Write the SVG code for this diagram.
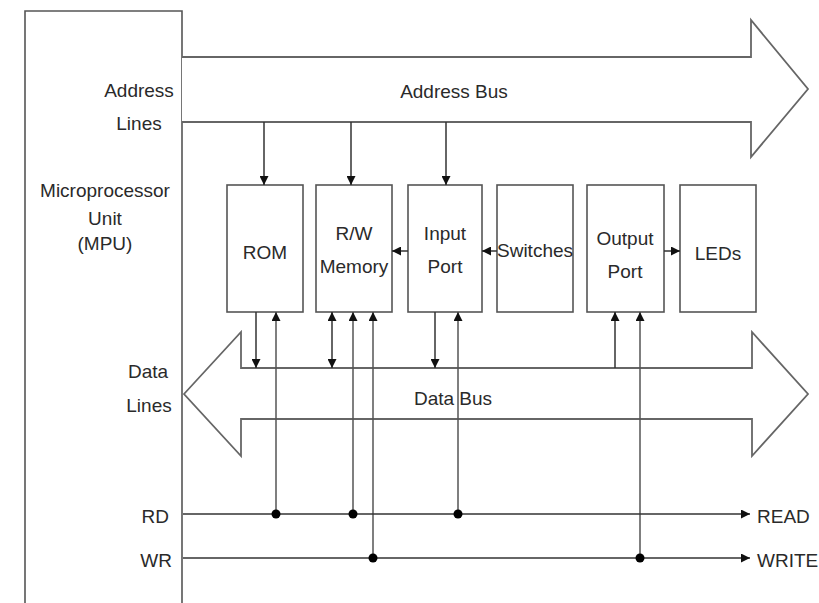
<svg xmlns="http://www.w3.org/2000/svg" width="819" height="603" viewBox="0 0 819 603">
<style>
.t{font-family:"Liberation Sans",Arial,sans-serif;font-size:19px;fill:#2a2a2a}
.m{text-anchor:middle}
.e{text-anchor:end}
.box{fill:#fff;stroke:#555;stroke-width:1.6}
.bus{fill:#fff;stroke:#666;stroke-width:1.8;stroke-linejoin:miter}
.ln{fill:none;stroke:#333;stroke-width:1.5}
.gl{fill:none;stroke:#555;stroke-width:1.5}
.dot{fill:#000}
</style>
<defs>
<marker id="ah" markerUnits="userSpaceOnUse" markerWidth="10" markerHeight="9" refX="9" refY="4.5" orient="auto-start-reverse" viewBox="0 0 10 9">
<path d="M0,0 L9,4.5 L0,9 z" fill="#111"/>
</marker>
</defs>
<g id="mpu">
<polyline class="box" points="25,603 25,11 182,11 182,603"/>
<text class="t m" x="105" y="197">Microprocessor</text>
<text class="t m" x="105" y="225">Unit</text>
<text class="t m" x="105" y="250">(MPU)</text>
<text class="t m" x="139" y="97">Address</text>
<text class="t m" x="139" y="130">Lines</text>
<text class="t m" x="148" y="378">Data</text>
<text class="t m" x="149" y="412">Lines</text>
<text class="t e" x="169" y="523">RD</text>
<text class="t e" x="172" y="567">WR</text>
</g>
<g id="address-bus">
<polyline class="bus" points="182,57 751,57 751,20 808,89 751,157 751,122 182,122"/>
<text class="t m" x="454" y="98">Address Bus</text>
</g>
<g id="data-bus">
<polygon class="bus" points="184,394 241,332 241,368 752,368 752,332 808,394 752,456 752,419 241,419 241,456"/>
<text class="t m" x="453" y="405">Data Bus</text>
</g>
<g id="rom"><rect class="box" x="227" y="185" width="76" height="127"/><text class="t m" x="265" y="259">ROM</text></g>
<g id="rw-memory"><rect class="box" x="316" y="185" width="76" height="127"/><text class="t m" x="354" y="240">R/W</text><text class="t m" x="354" y="273">Memory</text></g>
<g id="input-port"><rect class="box" x="408" y="185" width="74" height="127"/><text class="t m" x="445" y="240">Input</text><text class="t m" x="445" y="273">Port</text></g>
<g id="switches"><rect class="box" x="497" y="185" width="76" height="127"/><text class="t m" x="535" y="257">Switches</text></g>
<g id="output-port"><rect class="box" x="587" y="185" width="77" height="127"/><text class="t m" x="625" y="245">Output</text><text class="t m" x="625" y="278">Port</text></g>
<g id="leds"><rect class="box" x="680" y="185" width="76" height="127"/><text class="t m" x="718" y="260">LEDs</text></g>
<g id="control-labels">
<text class="t" x="757" y="523">READ</text>
<text class="t" x="757" y="567">WRITE</text>
</g>
<g id="connectors">
<line class="ln" x1="264" y1="122" x2="264" y2="185" marker-end="url(#ah)"/>
<line class="ln" x1="351" y1="122" x2="351" y2="185" marker-end="url(#ah)"/>
<line class="ln" x1="446" y1="122" x2="446" y2="185" marker-end="url(#ah)"/>
<line class="ln" x1="497" y1="251" x2="482" y2="251" marker-end="url(#ah)"/>
<line class="ln" x1="408" y1="251" x2="392" y2="251" marker-end="url(#ah)"/>
<line class="ln" x1="664" y1="251" x2="680" y2="251" marker-end="url(#ah)"/>
<line class="ln" x1="256" y1="312" x2="256" y2="368" marker-end="url(#ah)"/>
<line class="ln" x1="332" y1="312" x2="332" y2="368" marker-start="url(#ah)" marker-end="url(#ah)"/>
<line class="ln" x1="435" y1="312" x2="435" y2="368" marker-end="url(#ah)"/>
<line class="ln" x1="615" y1="368" x2="615" y2="312" marker-end="url(#ah)"/>
<line class="gl" x1="276" y1="514" x2="276" y2="312" marker-end="url(#ah)"/>
<line class="gl" x1="353" y1="514" x2="353" y2="312" marker-end="url(#ah)"/>
<line class="gl" x1="373" y1="558" x2="373" y2="312" marker-end="url(#ah)"/>
<line class="gl" x1="458" y1="514" x2="458" y2="312" marker-end="url(#ah)"/>
<line class="gl" x1="640" y1="558" x2="640" y2="312" marker-end="url(#ah)"/>
<line class="ln" x1="183" y1="514" x2="750" y2="514" marker-end="url(#ah)"/>
<line class="ln" x1="183" y1="558" x2="750" y2="558" marker-end="url(#ah)"/>
<circle class="dot" cx="276" cy="514" r="4.5"/>
<circle class="dot" cx="353" cy="514" r="4.5"/>
<circle class="dot" cx="458" cy="514" r="4.5"/>
<circle class="dot" cx="373" cy="558" r="4.5"/>
<circle class="dot" cx="640" cy="558" r="4.5"/>
</g>
</svg>
